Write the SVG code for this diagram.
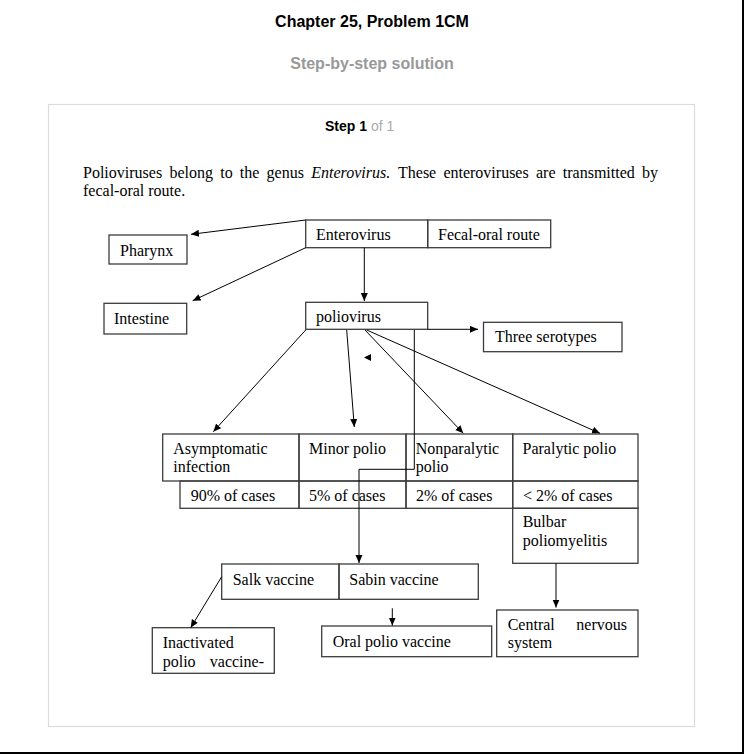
<svg xmlns="http://www.w3.org/2000/svg" width="744" height="754" viewBox="0 0 744 754">
<style>
.hd{font-family:"Liberation Sans",Arial,sans-serif;font-weight:bold}
.t{font-family:"Liberation Serif","Times New Roman",serif;font-size:16px;fill:#000}
.box{fill:none;stroke:#3c3c3c;stroke-width:1.3}
.c{fill:none;stroke:#000;stroke-width:1}
</style>
<defs>
<marker id="ah" markerUnits="userSpaceOnUse" markerWidth="9" markerHeight="8" refX="8" refY="3.5" orient="auto">
<path d="M0,0 L8,3.5 L0,7 z" fill="#000"/>
</marker>
<clipPath id="clipIn"><rect x="152" y="628" width="122" height="45"/></clipPath>
</defs>
<rect x="0" y="0" width="744" height="754" fill="#fff"/>
<line x1="743" y1="0" x2="743" y2="754" stroke="#000" stroke-width="2"/>
<line x1="0" y1="753" x2="744" y2="753" stroke="#000" stroke-width="2"/>

<text class="hd" x="372" y="27" font-size="16" text-anchor="middle" fill="#000">Chapter 25, Problem 1CM</text>
<text class="hd" x="372" y="69" font-size="16" text-anchor="middle" fill="#999">Step-by-step solution</text>
<rect x="48.5" y="104.5" width="646" height="622" fill="none" stroke="#dcdcdc" stroke-width="1.2"/>
<text x="325" y="131" font-family="'Liberation Sans',Arial,sans-serif" font-size="14"><tspan font-weight="bold" fill="#000">Step 1</tspan><tspan fill="#aaa"> of 1</tspan></text>

<text class="t" y="178"><tspan x="83">Polioviruses</tspan><tspan x="169.4">belong</tspan><tspan x="220.2">to</tspan><tspan x="239.8">the</tspan><tspan x="266.6">genus</tspan><tspan x="311.2" font-style="italic">Enterovirus.</tspan><tspan x="398">These</tspan><tspan x="443.4">enteroviruses</tspan><tspan x="536">are</tspan><tspan x="562.8">transmitted</tspan><tspan x="642">by</tspan></text>
<text class="t" x="83" y="196">fecal-oral route.</text>

<g id="enterovirus">
<rect class="box" x="305.7" y="220" width="122" height="27.7"/>
<text class="t" x="316" y="240">Enterovirus</text>
</g>
<g id="fecal-oral">
<rect class="box" x="427.7" y="220" width="123" height="27.7"/>
<text class="t" x="438" y="240">Fecal-oral route</text>
</g>
<g id="pharynx">
<rect class="box" x="109" y="235" width="78" height="29"/>
<text class="t" x="120" y="255.5">Pharynx</text>
</g>
<g id="intestine">
<rect class="box" x="104" y="303.3" width="82.7" height="30.7"/>
<text class="t" x="114" y="323.5">Intestine</text>
</g>
<g id="poliovirus">
<rect class="box" x="305.7" y="302.3" width="122" height="27"/>
<text class="t" x="316" y="321.5">poliovirus</text>
</g>
<g id="serotypes">
<rect class="box" x="483.5" y="322.3" width="138.5" height="29.4"/>
<text class="t" x="495" y="342">Three serotypes</text>
</g>
<g id="asymptomatic">
<rect class="box" x="162.7" y="434" width="136.3" height="47"/>
<text class="t" x="173.3" y="453.5">Asymptomatic</text>
<text class="t" x="173.3" y="471.5">infection</text>
</g>
<g id="minor">
<rect class="box" x="299" y="434" width="107" height="47"/>
<text class="t" x="309" y="453.5">Minor polio</text>
</g>
<g id="nonparalytic">
<rect class="box" x="406" y="434" width="106.7" height="47"/>
<text class="t" x="415.7" y="453.5">Nonparalytic</text>
<text class="t" x="415.7" y="471.5">polio</text>
</g>
<g id="paralytic">
<rect class="box" x="512.7" y="434" width="125.3" height="47"/>
<text class="t" x="522.5" y="453.5">Paralytic polio</text>
</g>
<g id="pct90">
<rect class="box" x="180" y="481" width="119" height="27.3"/>
<text class="t" x="190.7" y="500.7">90% of cases</text>
</g>
<g id="pct5">
<rect class="box" x="299" y="481" width="107" height="27.3"/>
<text class="t" x="309" y="500.7">5% of cases</text>
</g>
<g id="pct2">
<rect class="box" x="406" y="481" width="106.7" height="27.3"/>
<text class="t" x="416" y="500.7">2% of cases</text>
</g>
<g id="pctlt2">
<rect class="box" x="512.7" y="481" width="125.3" height="27.3"/>
<text class="t" x="523" y="500.7">&lt; 2% of cases</text>
</g>
<g id="bulbar">
<rect class="box" x="512.7" y="508.3" width="125.3" height="55"/>
<text class="t" x="522.7" y="527">Bulbar</text>
<text class="t" x="522.7" y="545.5">poliomyelitis</text>
</g>
<g id="cns">
<rect class="box" x="496.7" y="610" width="141.3" height="46.7"/>
<text class="t" x="507.7" y="630">Central</text>
<text class="t" x="627" y="630" text-anchor="end">nervous</text>
<text class="t" x="507.7" y="648">system</text>
</g>
<g id="salk">
<rect class="box" x="221.7" y="564" width="117.3" height="35.3"/>
<text class="t" x="232.7" y="585">Salk vaccine</text>
</g>
<g id="sabin">
<rect class="box" x="339" y="564" width="139.3" height="35.3"/>
<text class="t" x="349.3" y="585">Sabin vaccine</text>
</g>
<g id="inactivated">
<rect class="box" x="152.3" y="627.7" width="122" height="45.6"/>
<g clip-path="url(#clipIn)">
<text class="t" x="162.7" y="648.3">Inactivated</text>
<text class="t" x="162.7" y="667"><tspan>polio</tspan><tspan x="264" text-anchor="end">vaccine-</tspan></text>
</g>
</g>
<g id="oral">
<rect class="box" x="321.7" y="626" width="170" height="30.7"/>
<text class="t" x="332.7" y="646.7">Oral polio vaccine</text>
</g>

<g id="connectors">
<line class="c" x1="305.7" y1="220" x2="191" y2="234.3" marker-end="url(#ah)"/>
<line class="c" x1="305.7" y1="247.7" x2="192.7" y2="300.7" marker-end="url(#ah)"/>
<line class="c" x1="364.3" y1="247.7" x2="364.3" y2="301" marker-end="url(#ah)"/>
<line class="c" x1="427.7" y1="329.3" x2="478" y2="329.3" marker-end="url(#ah)"/>
<line class="c" x1="305.7" y1="330" x2="213.3" y2="431.7" marker-end="url(#ah)"/>
<line class="c" x1="346.7" y1="330" x2="354.3" y2="427" marker-end="url(#ah)"/>
<line class="c" x1="365" y1="330" x2="463.3" y2="433.3" marker-end="url(#ah)"/>
<line class="c" x1="366.7" y1="330" x2="600" y2="433.3" marker-end="url(#ah)"/>
<polyline class="c" points="414.3,330 414.3,469.3 359,469.3 359,563" marker-end="url(#ah)"/>
<path d="M364,357.5 L371,354 L371,361 z" fill="#000"/>
<line class="c" x1="556" y1="563.3" x2="556" y2="607.5" marker-end="url(#ah)"/>
<line class="c" x1="221.7" y1="576.7" x2="190.7" y2="627.7" marker-end="url(#ah)"/>
<line class="c" x1="392.3" y1="608.3" x2="392.3" y2="625.5" marker-end="url(#ah)"/>
</g>
</svg>
